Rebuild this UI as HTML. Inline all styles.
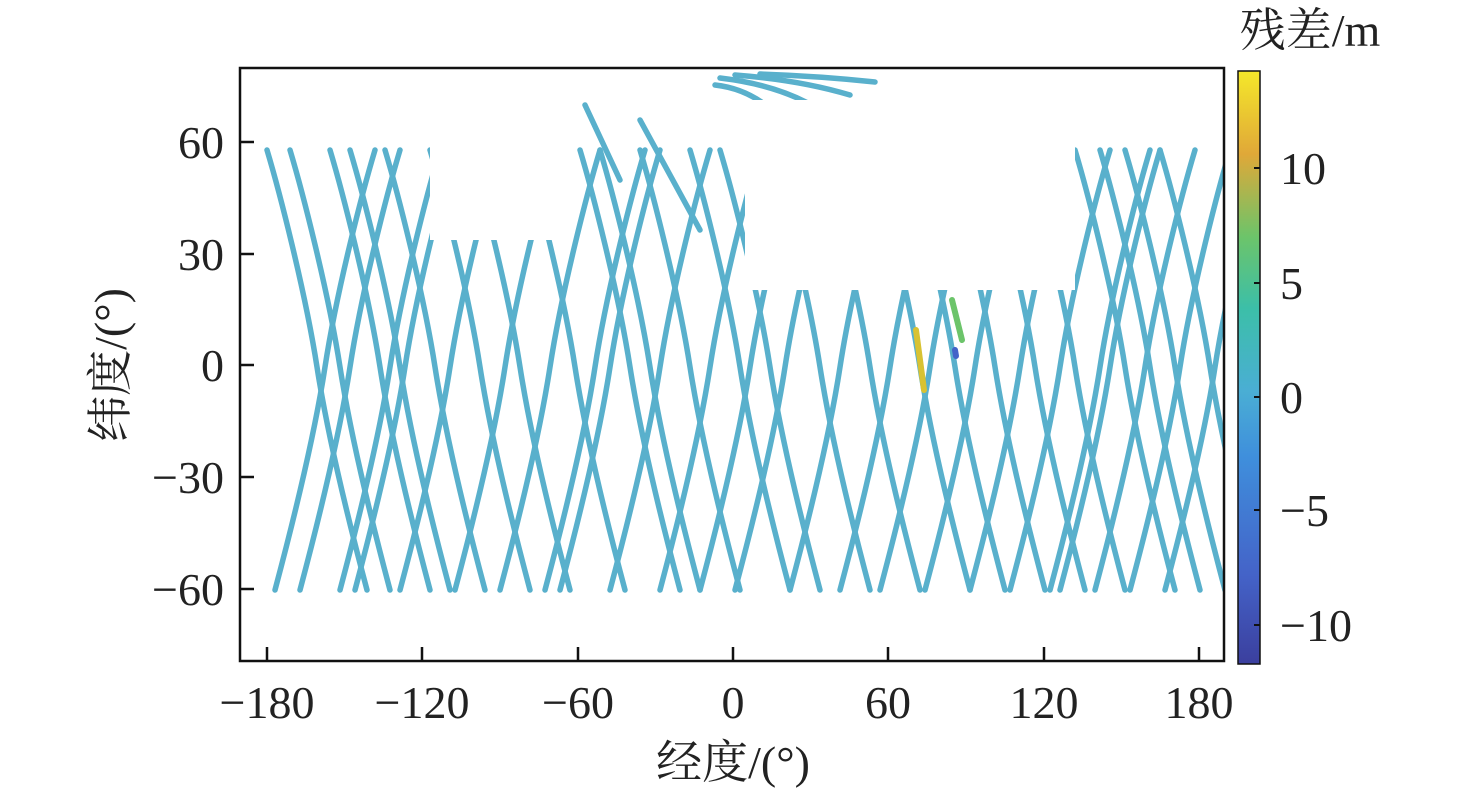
<!DOCTYPE html>
<html><head><meta charset="utf-8"><style>
html,body{margin:0;padding:0;background:#fff;}
svg{display:block;}
text{font-family:"Liberation Serif","Noto Serif CJK SC",serif;fill:#222;}
</style></head><body>
<svg width="1476" height="793" viewBox="0 0 1476 793" xmlns="http://www.w3.org/2000/svg">
<defs>
<linearGradient id="cb" x1="0" y1="1" x2="0" y2="0">
<stop offset="0" stop-color="#3b3f9e"/>
<stop offset="0.15" stop-color="#4463c8"/>
<stop offset="0.35" stop-color="#3f8fdc"/>
<stop offset="0.46" stop-color="#4aaed4"/>
<stop offset="0.6" stop-color="#3cbfa8"/>
<stop offset="0.72" stop-color="#6cc46a"/>
<stop offset="0.86" stop-color="#e0a838"/>
<stop offset="1" stop-color="#f5e82a"/>
</linearGradient>
<path id="up" d="M0 445 C12 400,38 300,50 222 S88 45,100 5" fill="none"/>
<path id="dn" d="M0 5 C12 45,38 145,50 222 S88 400,100 445" fill="none"/>
<clipPath id="cp"><path d="M241 69H1223V660H241Z M745 100V290H1075V100Z M430 69V240H560V69Z" clip-rule="evenodd" fill-rule="evenodd"/></clipPath>
</defs>
<g clip-path="url(#cp)" stroke="#59b0cc" stroke-width="5.5" stroke-linecap="round" fill="none">
<g transform="translate(0,145)">
<use href="#dn" x="267"/><use href="#up" x="275"/><use href="#dn" x="290"/><use href="#up" x="300"/>
<use href="#dn" x="330"/><use href="#up" x="340"/><use href="#dn" x="350"/><use href="#up" x="355"/>
<use href="#dn" x="385"/><use href="#up" x="400"/><use href="#dn" x="430"/><use href="#up" x="455"/>
<use href="#dn" x="470"/><use href="#up" x="500"/><use href="#dn" x="525"/><use href="#up" x="545"/>
<use href="#dn" x="580"/><use href="#up" x="560"/><use href="#dn" x="600"/><use href="#up" x="610"/>
<use href="#dn" x="640"/><use href="#up" x="660"/><use href="#dn" x="690"/><use href="#up" x="700"/>
<use href="#dn" x="720"/><use href="#up" x="735"/><use href="#dn" x="770"/><use href="#up" x="790"/>
<use href="#dn" x="820"/><use href="#up" x="840"/><use href="#dn" x="870"/><use href="#up" x="880"/>
<use href="#dn" x="905"/><use href="#up" x="925"/><use href="#dn" x="945"/><use href="#up" x="970"/>
<use href="#dn" x="985"/><use href="#up" x="1010"/><use href="#dn" x="1025"/><use href="#up" x="1050"/>
<use href="#dn" x="1075"/><use href="#up" x="1060"/><use href="#dn" x="1100"/><use href="#up" x="1095"/>
<use href="#dn" x="1125"/><use href="#up" x="1130"/><use href="#dn" x="1160"/><use href="#up" x="1165"/>
</g>
<path d="M715 85 Q760 90 790 130" /><path d="M720 78 Q780 85 820 110"/><path d="M735 75 Q800 80 850 95"/><path d="M760 74 Q820 76 875 82"/>
<path d="M640 120 L700 230"/><path d="M585 105 L620 180"/>
</g>
<g stroke-width="6" stroke-linecap="round" fill="none">
<path d="M916 330 L924 390" stroke="#d8c232"/>
<path d="M952 300 L962 340" stroke="#6cc46a"/>
<path d="M955 350 L956 356" stroke="#4463c8"/>
</g>
<rect x="240" y="68" width="984" height="593" fill="none" stroke="#111" stroke-width="2.5"/>
<g stroke="#111" stroke-width="2.5">
<path d="M267 661v-14M422 661v-14M578 661v-14M733 661v-14M888 661v-14M1044 661v-14M1199 661v-14"/>
<path d="M240 142h14M240 254h14M240 365h14M240 477h14M240 589h14"/>
</g>
<g font-size="46" text-anchor="middle">
<text x="267" y="718">−180</text><text x="422" y="718">−120</text><text x="578" y="718">−60</text>
<text x="733" y="718">0</text><text x="888" y="718">60</text><text x="1044" y="718">120</text><text x="1199" y="718">180</text>
</g>
<g font-size="46" text-anchor="end">
<text x="224" y="158">60</text><text x="224" y="270">30</text><text x="224" y="381">0</text>
<text x="224" y="493">−30</text><text x="224" y="605">−60</text>
</g>
<text x="733" y="778" font-size="46" text-anchor="middle">经度/(°)</text>
<text transform="translate(126,365) rotate(-90)" font-size="46" text-anchor="middle">纬度/(°)</text>
<rect x="1238" y="71" width="22" height="593" fill="url(#cb)" stroke="#111" stroke-width="1.5"/>
<g stroke="#111" stroke-width="2"><path d="M1260 168h-6M1260 283h-6M1260 397h-6M1260 510h-6M1260 625h-6"/></g>
<g font-size="46">
<text x="1280" y="184">10</text><text x="1280" y="299">5</text><text x="1280" y="413">0</text>
<text x="1280" y="526">−5</text><text x="1280" y="641">−10</text>
</g>
<text x="1310" y="46" font-size="46" text-anchor="middle">残差/m</text>
</svg>
</body></html>
